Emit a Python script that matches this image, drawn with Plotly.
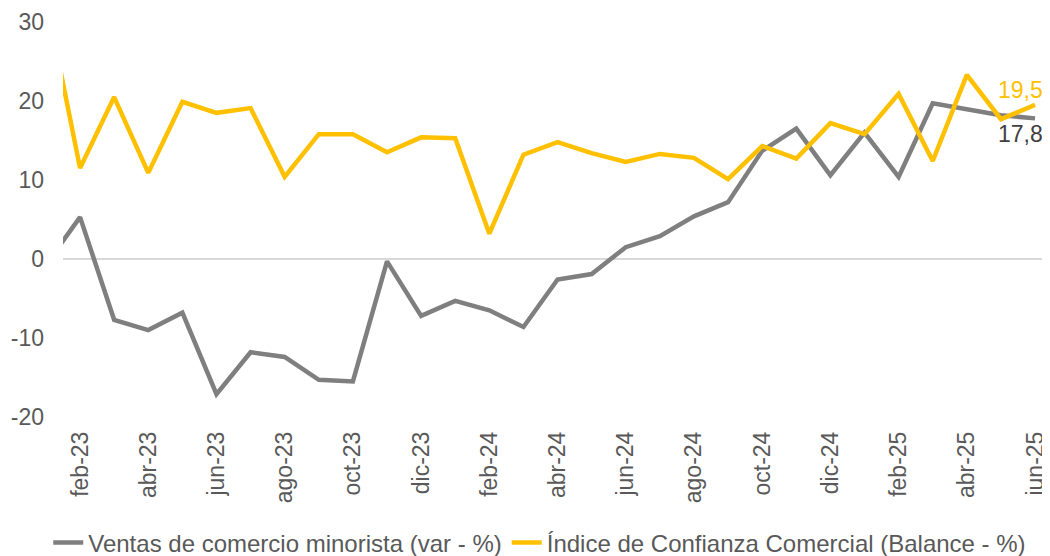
import plotly.graph_objects as go

months = ["ene-23", "feb-23", "mar-23", "abr-23", "may-23", "jun-23", "jul-23", "ago-23",
          "sep-23", "oct-23", "nov-23", "dic-23", "ene-24", "feb-24", "mar-24", "abr-24",
          "may-24", "jun-24", "jul-24", "ago-24", "sep-24", "oct-24", "nov-24", "dic-24",
          "ene-25", "feb-25", "mar-25", "abr-25", "may-25", "jun-25"]

ventas = [-0.7, 5.3, -7.7, -9.0, -6.8, -17.1, -11.8, -12.4, -15.3, -15.5, -0.3, -7.2,
          -5.3, -6.5, -8.6, -2.6, -1.9, 1.5, 2.9, 5.4, 7.2, 13.7, 16.5, 10.6,
          16.0, 10.4, 19.7, 19.0, 18.2, 17.8]

confianza = [33.0, 11.5, 20.5, 10.9, 19.9, 18.5, 19.1, 10.4, 15.8, 15.8, 13.5, 15.4,
             15.3, 3.2, 13.2, 14.8, 13.4, 12.3, 13.3, 12.8, 10.1, 14.3, 12.7, 17.2,
             15.8, 20.9, 12.4, 23.3, 17.7, 19.5]

tick_labels = months[1::2]
y_ticks = [-20, -10, 0, 10, 20, 30]
y_tick_text = ["-20", "-10", "0", "10", "20", "30"]

GRAY = "#7F7F7F"
YELLOW = "#FFC000"
FONT = "Liberation Sans, Arial, sans-serif"

fig = go.Figure()
fig.add_trace(go.Scatter(x=months, y=ventas, mode="lines",
                         name="Ventas de comercio minorista (var - %)",
                         line=dict(color=GRAY, width=4.5)))
fig.add_trace(go.Scatter(x=months, y=confianza, mode="lines",
                         name="Índice de Confianza Comercial (Balance - %)",
                         line=dict(color=YELLOW, width=4.5)))

fig.add_annotation(x=months[-1], y=confianza[-1], text="19,5",
                   showarrow=False, xshift=-15, yshift=15,
                   font=dict(family=FONT, size=23, color=YELLOW))
fig.add_annotation(x=months[-1], y=ventas[-1], text="17,8",
                   showarrow=False, xshift=-15, yshift=-16,
                   font=dict(family=FONT, size=23, color="#404040"))

# page body has an 8px margin, so the figure is sized/placed to compensate
fig.update_layout(
    width=1042, height=548,
    margin=dict(l=55, r=2, t=14, b=139, autoexpand=False),
    paper_bgcolor="white", plot_bgcolor="white",
    font=dict(family=FONT, size=23, color="#595959"),
    showlegend=True,
    legend=dict(orientation="h", x=0.484, xanchor="center", y=-0.319, yanchor="middle",
                font=dict(family=FONT, size=24, color="#595959"),
                bgcolor="rgba(0,0,0,0)", itemwidth=30, tracegroupgap=0),
)
fig.update_xaxes(type="category", range=[0.5, 29.38], tickmode="array",
                 tickvals=tick_labels, ticktext=tick_labels, tickangle=-90,
                 showgrid=False, zeroline=False, showline=False, ticks="",
                 automargin=False, ticklabelstandoff=9,
                 tickfont=dict(family=FONT, size=23, color="#595959"))
fig.update_yaxes(range=[-20, 30], tickmode="array", tickvals=y_ticks, ticktext=y_tick_text,
                 showgrid=False, zeroline=True, zerolinecolor="#D9D9D9", zerolinewidth=1.5,
                 showline=False, ticks="", ticklabelstandoff=18, automargin=False,
                 tickfont=dict(family=FONT, size=23, color="#595959"))

fig.write_html("out.html")
